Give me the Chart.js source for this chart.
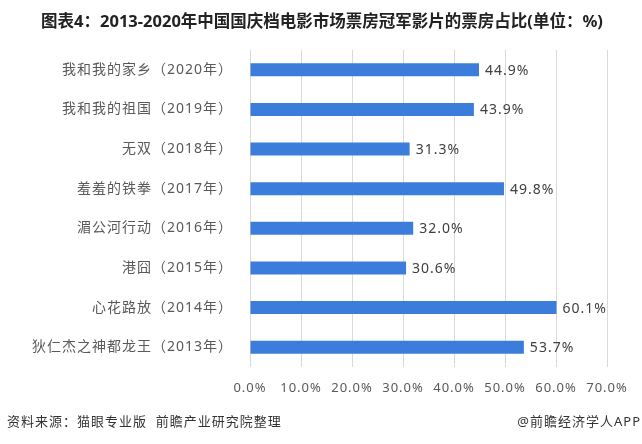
<!DOCTYPE html>
<html lang="zh">
<head>
<meta charset="UTF-8">
<title>2013-2020年中国国庆档电影市场票房冠军影片的票房占比</title>
<script src="https://cdn.jsdelivr.net/npm/chart.js"></script>
<style>
  html, body { margin: 0; padding: 0; background: #fff; }
  #wrap { width: 642px; height: 444px; position: relative; }
</style>
</head>
<body>
<div id="wrap"><canvas id="boxChart" width="642" height="444"></canvas></div>
<script>
const films = ['我和我的家乡（2020年）', '我和我的祖国（2019年）', '无双（2018年）', '羞羞的铁拳（2017年）',
               '湄公河行动（2016年）', '港囧（2015年）', '心花路放（2014年）', '狄仁杰之神都龙王（2013年）'];
const shares = [44.9, 43.9, 31.3, 49.8, 32.0, 30.6, 60.1, 53.7];
const xTicks = [0, 10, 20, 30, 40, 50, 60, 70];

const FONT = '"Noto Sans", "Noto Sans CJK SC", sans-serif';

// the source uses slightly spaced-out lettering
const spacingPlugin = {
    id: 'spacing',
    beforeDraw(chart) {
        chart.ctx.save();
        chart.ctx.letterSpacing = '1px';
    },
    afterDraw(chart) {
        chart.ctx.restore();
    }
};

// title, footer and value labels
const textPlugin = {
    id: 'texts',
    afterDraw(chart) {
        const c = chart.ctx;
        c.save();
        c.letterSpacing = '0px';
        c.fillStyle = '#222';
        c.font = 'bold 16.5px ' + FONT;
        c.textAlign = 'center';
        c.textBaseline = 'middle';
        c.fillText('图表4：2013-2020年中国国庆档电影市场票房冠军影片的票房占比(单位：%)', 322, 22);

        c.letterSpacing = '1px';
        c.font = '13px ' + FONT;
        c.fillStyle = '#333';
        c.textAlign = 'left';
        c.fillText('资料来源：猫眼专业版  前瞻产业研究院整理', 7, 422);
        c.textAlign = 'right';
        c.fillText('@前瞻经济学人APP', 641, 422);

        const meta = chart.getDatasetMeta(0);
        c.font = '14px ' + FONT;
        c.fillStyle = '#404040';
        c.textAlign = 'left';
        meta.data.forEach((bar, i) => {
            c.fillText(shares[i].toFixed(1) + '%', bar.x + 6, bar.y + 1);
        });
        c.restore();
    }
};

new Chart(document.getElementById('boxChart'), {
    type: 'bar',
    data: {
        labels: films,
        datasets: [{
            data: shares,
            backgroundColor: '#3c7ddb',
            barPercentage: 0.33,
            categoryPercentage: 1.0
        }]
    },
    options: {
        indexAxis: 'y',
        responsive: false,
        animation: false,
        layout: { padding: { top: 50, left: 0, right: 35, bottom: 47 } },
        plugins: {
            legend: { display: false },
            tooltip: { enabled: false }
        },
        scales: {
            x: {
                min: 0,
                max: 70,
                afterBuildTicks(axis) { axis.ticks = xTicks.map(v => ({ value: v })); },
                afterFit(axis) { axis.height = 30; },
                ticks: {
                    padding: 13,
                    color: '#595959',
                    font: { family: FONT, size: 13 },
                    callback: v => v.toFixed(1) + '%'
                },
                grid: { color: '#d9d9d9', drawTicks: false },
                border: { display: false }
            },
            y: {
                afterFit(axis) { axis.width = 250; },
                ticks: {
                    padding: 9,
                    color: '#595959',
                    font: { family: FONT, size: 14 }
                },
                grid: { display: false },
                border: { display: false }
            }
        }
    },
    plugins: [spacingPlugin, textPlugin]
});
</script>
</body>
</html>
